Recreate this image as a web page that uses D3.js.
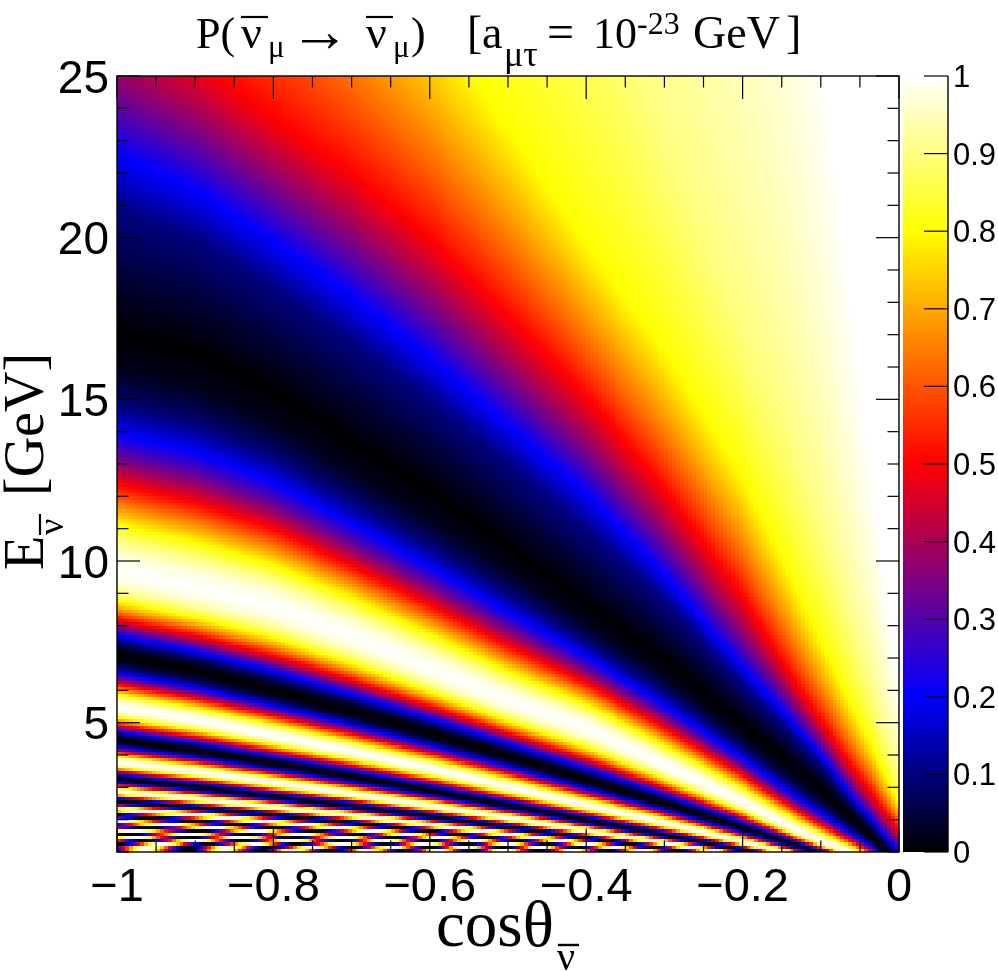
<!DOCTYPE html>
<html>
<head>
<meta charset="utf-8">
<script src="https://cdn.jsdelivr.net/npm/d3@7"></script>
<style>
  body { margin: 0; background: #fff; }
  #wrap { position: relative; width: 998px; height: 972px; overflow: hidden; }
  canvas, svg { position: absolute; left: 0; top: 0; }
</style>
</head>
<body>
<div id="wrap">
  <canvas id="heat" width="998" height="972"></canvas>
  <svg id="chart" width="998" height="972"></svg>
</div>
<script>
const cosGrid = [-1, -0.9, -0.8, -0.7, -0.6, -0.5, -0.4, -0.3, -0.2, -0.15, -0.1, -0.05, 0];

// contours above the first dark band: energy where P reaches each level
const upperLevels = [1, 0.9, 0.8, 0.5, 0.2, 0.1, 0.04];
const upperEnergy = [
  [200, 190, 180, 160, 140, 120, 100, 80, 55, 40, 27, 16, 6],
  [60, 56, 52, 47, 42, 36, 30, 23, 17.2, 14.5, 11, 7, 3.2],
  [38, 36, 33.5, 30, 26.8, 23.4, 19.8, 16.5, 12.6, 10.1, 7.5, 5, 2.5],
  [27, 25.5, 23.7, 22, 20, 17.6, 15.1, 12.2, 8.9, 6.9, 5.05, 3.3, 1.7],
  [22.6, 21.5, 19.9, 18.2, 16.3, 14.2, 12.1, 9.6, 6.7, 5.4, 4, 2.4, 1.05],
  [20.9, 20, 18.5, 16.8, 15, 13.05, 11, 8.78, 6.17, 4.97, 3.69, 2.23, 0.91],
  [18.8, 18.05, 16.7, 15.1, 13.5, 11.6, 9.7, 7.78, 5.52, 4.42, 3.31, 2.02, 0.76]
];

// ridges from the first minimum downwards: min, max, min, max ...
const ridgeEnergy = [
  [17.1, 16.5, 15.3, 13.7, 12.2, 10.5, 8.7, 7, 5, 4, 3, 1.85, 0.65],
  [9.7, 9.2, 8.6, 7.7, 6.7, 5.7, 4.85, 3.7, 2.55, 1.9, 1.33, 0.88, 0.4],
  [7.09, 6.62, 6.01, 5.36, 4.68, 3.97, 3.23, 2.51, 1.75, 1.35, 0.97, 0.61, 0.25],
  [5.49, 5.09, 4.61, 4.11, 3.58, 3.02, 2.45, 1.9, 1.32, 1.02, 0.72, 0.46, 0.2],
  [4.47, 4.14, 3.74, 3.33, 2.9, 2.44, 1.98, 1.53, 1.06, 0.81, 0.58, 0.37, 0.16],
  [3.78, 3.49, 3.15, 2.8, 2.43, 2.05, 1.66, 1.28, 0.89, 0.68, 0.48, 0.31, 0.13],
  [3.27, 3.01, 2.71, 2.42, 2.1, 1.77, 1.43, 1.1, 0.76, 0.58, 0.41, 0.26, 0.11],
  [2.88, 2.65, 2.39, 2.13, 1.84, 1.55, 1.25, 0.97, 0.67, 0.51, 0.36, 0.23, 0.095],
  [2.57, 2.37, 2.13, 1.9, 1.64, 1.38, 1.12, 0.86, 0.6, 0.45, 0.32, 0.2, 0.08],
  [2.33, 2.14, 1.92, 1.71, 1.48, 1.25, 1.01, 0.78, 0.54, 0.41, 0.29, 0.18, 0.07],
  [2.12, 1.95, 1.75, 1.56, 1.35, 1.14, 0.92, 0.71, 0.49, 0.37, 0.26, 0.17, 0.065],
  [1.95, 1.79, 1.61, 1.43, 1.24, 1.04, 0.84, 0.65, 0.45, 0.34, 0.24, 0.15, 0.06],
  [1.81, 1.66, 1.49, 1.33, 1.15, 0.96, 0.78, 0.6, 0.41, 0.32, 0.22, 0.14, 0.055],
  [1.68, 1.54, 1.39, 1.23, 1.07, 0.9, 0.72, 0.56, 0.38, 0.3, 0.21, 0.13, 0.05],
  [1.57, 1.44, 1.29, 1.15, 1, 0.84, 0.68, 0.52, 0.36, 0.28, 0.19, 0.12, 0.047],
  [1.48, 1.35, 1.22, 1.08, 0.94, 0.79, 0.63, 0.49, 0.34, 0.26, 0.18, 0.115, 0.044],
  [1.39, 1.27, 1.14, 1.02, 0.88, 0.74, 0.6, 0.46, 0.32, 0.25, 0.17, 0.11, 0.041],
  [1.32, 1.2, 1.08, 0.96, 0.83, 0.7, 0.56, 0.43, 0.3, 0.24, 0.16, 0.1, 0.039],
  [1.25, 1.14, 1.03, 0.91, 0.79, 0.66, 0.53, 0.41, 0.28, 0.22, 0.15, 0.095, 0.037],
  [1.19, 1.09, 0.98, 0.87, 0.75, 0.63, 0.51, 0.39, 0.27, 0.21, 0.145, 0.09, 0.035],
  [1.13, 1.04, 0.93, 0.83, 0.72, 0.6, 0.48, 0.37, 0.26, 0.2, 0.14, 0.085, 0.033],
  [1.08, 0.99, 0.89, 0.79, 0.68, 0.57, 0.46, 0.35, 0.24, 0.19, 0.13, 0.08, 0.031],
  [1.04, 0.95, 0.85, 0.76, 0.65, 0.55, 0.44, 0.34, 0.23, 0.18, 0.125, 0.078, 0.03],
  [0.99, 0.91, 0.81, 0.73, 0.63, 0.53, 0.42, 0.33, 0.22, 0.17, 0.12, 0.075, 0.028],
  [0.95, 0.87, 0.78, 0.7, 0.6, 0.51, 0.41, 0.31, 0.21, 0.16, 0.115, 0.072, 0.027]
];

// how P climbs between a minimum and the next maximum (share of the way in 1/E)
const bandFraction = [0.1, 0.2, 0.3, 0.4, 0.5, 0.6, 0.7, 0.8, 0.9];
const bandLevel = [0.024, 0.095, 0.206, 0.345, 0.5, 0.655, 0.794, 0.905, 0.976];

const colorStops = [0, 0.2, 0.5, 0.8, 1];
const colorValues = ["#000000", "#0000ff", "#ff0000", "#ffff00", "#ffffff"];

const xTicks = [-1, -0.8, -0.6, -0.4, -0.2, 0];
const xTickLabels = ["\u22121", "\u22120.8", "\u22120.6", "\u22120.4", "\u22120.2", "0"];
const yTicks = [5, 10, 15, 20, 25];
const zTicks = [0, 0.1, 0.2, 0.3, 0.4, 0.5, 0.6, 0.7, 0.8, 0.9, 1];
const zTickLabels = ["0", "0.1", "0.2", "0.3", "0.4", "0.5", "0.6", "0.7", "0.8", "0.9", "1"];

const sans = "'Liberation Sans', Arial, sans-serif";
const serif = "'Liberation Serif', 'Times New Roman', serif";

const x = d3.scaleLinear().domain([-1, 0]).range([117, 899]);
const y = d3.scaleLinear().domain([1, 25]).range([852, 76]);
const z = d3.scaleLinear().domain([0, 1]).range([852, 76]);
const color = d3.scaleLinear().domain(colorStops).range(colorValues).clamp(true);

const curve = row => d3.scaleLinear().domain(cosGrid).range(row);
const upperCurves = upperEnergy.map(curve);
const ridgeCurves = ridgeEnergy.map(curve);

// one lookup per cos column: 1/E -> P
function columnScale(c) {
  const dom = [];
  const rng = [];
  upperCurves.forEach((f, i) => { dom.push(1 / f(c)); rng.push(upperLevels[i]); });
  ridgeCurves.forEach((f, i) => {
    const v = 1 / f(c);
    dom.push(v);
    rng.push(i % 2);
    if (i < ridgeCurves.length - 1) {
      const w = 1 / ridgeCurves[i + 1](c);
      bandFraction.forEach((t, j) => {
        dom.push(v + t * (w - v));
        rng.push(i % 2 ? 1 - bandLevel[j] : bandLevel[j]);
      });
    }
  });
  return d3.scaleLinear().domain(dom).range(rng).clamp(true);
}

// heat map cells
const nCos = 200;
const nE = 240;
const dCos = 1 / nCos;
const dE = 24 / nE;
const ctx = document.getElementById("heat").getContext("2d");
d3.range(nCos).forEach(i => {
  const c0 = -1 + i * dCos;
  const p = columnScale(c0 + dCos / 2);
  const x0 = Math.round(x(c0));
  const x1 = Math.round(x(c0 + dCos));
  d3.range(nE).forEach(j => {
    const e0 = 1 + j * dE;
    const y0 = Math.round(y(e0 + dE));
    const y1 = Math.round(y(e0));
    ctx.fillStyle = color(p(1 / (e0 + dE / 2)));
    ctx.fillRect(x0, y0, x1 - x0, y1 - y0);
  });
});

const svg = d3.select("#chart");

// palette bar
svg.append("g")
  .attr("shape-rendering", "crispEdges")
  .selectAll("rect")
  .data(d3.range(0, 1, 1 / 388))
  .enter()
  .append("rect")
  .attr("x", 903)
  .attr("width", 45)
  .attr("y", d => Math.round(z(d + 1 / 388)))
  .attr("height", d => Math.round(z(d)) - Math.round(z(d + 1 / 388)))
  .attr("fill", d => color(d));

const line = (x1, y1, x2, y2, w) => svg.append("line")
  .attr("x1", x1).attr("y1", y1).attr("x2", x2).attr("y2", y2)
  .attr("stroke", "#000").attr("stroke-width", w || 1.2);

// frame and ticks
svg.append("rect")
  .attr("x", 117).attr("y", 76).attr("width", 782).attr("height", 776)
  .attr("fill", "none").attr("stroke", "#000").attr("stroke-width", 1.4);

d3.range(-1, 0.0001, 0.05).forEach((c, i) => {
  const len = i % 4 === 0 ? 23 : 11.5;
  line(x(c), 852, x(c), 852 - len);
  line(x(c), 76, x(c), 76 + len);
});
d3.range(1, 26).forEach(e => {
  const len = e % 5 === 0 ? 23 : 11.5;
  line(117, y(e), 117 + len, y(e));
  line(899, y(e), 899 - len, y(e));
});
line(948, 76, 948, 852, 1.4);
zTicks.forEach(v => line(948, z(v), 924, z(v)));

// tick labels
svg.append("g").selectAll("text").data(xTicks).enter().append("text")
  .attr("x", d => x(d)).attr("y", 901)
  .attr("text-anchor", "middle")
  .attr("font-family", sans).attr("font-size", 47)
  .text((d, i) => xTickLabels[i]);

svg.append("g").selectAll("text").data(yTicks).enter().append("text")
  .attr("x", 109).attr("y", d => y(d) + 16.5)
  .attr("text-anchor", "end")
  .attr("font-family", sans).attr("font-size", 46)
  .text(d => d);

svg.append("g").selectAll("text").data(zTicks).enter().append("text")
  .attr("x", 953).attr("y", d => z(d) + 11)
  .attr("font-family", sans).attr("font-size", 31)
  .text((d, i) => zTickLabels[i]);

// serif pieces of the title and axis names
function piece(g, str, px, py, size) {
  return g.append("text")
    .attr("x", px).attr("y", py)
    .attr("font-family", serif).attr("font-size", size)
    .text(str);
}
function bar(g, x1, x2, py, w) {
  g.append("line").attr("x1", x1).attr("x2", x2).attr("y1", py).attr("y2", py)
    .attr("stroke", "#000").attr("stroke-width", w);
}

const title = svg.append("g");
piece(title, "P(", 196, 48, 44);
piece(title, "\u03bd", 241, 48, 46);
bar(title, 241, 268, 17, 2.2);
piece(title, "\u03bc", 268, 57, 31);
piece(title, "\u2192", 290, 51, 60);
piece(title, "\u03bd", 366, 48, 46);
bar(title, 366, 393, 17, 2.2);
piece(title, "\u03bc", 393, 57, 31);
piece(title, ")", 411, 48, 44);
piece(title, "[", 467, 48, 46);
piece(title, "a", 482, 48, 46);
piece(title, "\u03bc\u03c4", 504, 66, 36);
piece(title, "=", 547, 48, 48);
piece(title, "10", 593, 48, 44);
piece(title, "-23", 637, 34, 32);
piece(title, "GeV", 693, 48, 46);
piece(title, "]", 786, 48, 46);

const xName = svg.append("g");
piece(xName, "cos\u03b8", 436, 946, 65);
bar(xName, 558, 579, 945, 2.4);
piece(xName, "\u03bd", 557, 970, 40);

const yName = svg.append("g").attr("transform", "translate(43,570) rotate(-90)");
piece(yName, "E", 0, 0, 56);
piece(yName, "\u03bd", 35, 20, 36);
bar(yName, 35, 56, -3, 2.2);
piece(yName, "[GeV]", 74, 0, 56);
</script>
</body>
</html>
